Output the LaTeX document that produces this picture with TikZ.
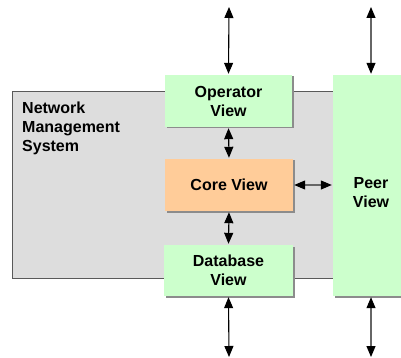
\documentclass[tikz,border=0pt]{standalone}
\usepackage{fontspec}
\setmainfont{Liberation Sans}
\usetikzlibrary{arrows.meta, shadows}

\definecolor{viewgreen}{HTML}{CCFFCC}
\definecolor{coreorange}{HTML}{FFCC99}
\definecolor{nmsgray}{HTML}{DDDDDD}

\tikzset{
  labelfont/.style={font=\bfseries\fontsize{16}{19}\selectfont},
  view/.style={labelfont, fill=viewgreen, inner sep=0pt, align=center,
    drop shadow={shadow xshift=1.5pt, shadow yshift=-1.5pt, opacity=1, fill=black!45}},
  link/.style={{Triangle[width=9pt, length=11pt, color=black]}-{Triangle[width=9pt, length=11pt, color=black]},
    line width=1.1pt, shorten <=1pt, shorten >=1pt},
}

\begin{document}
\begin{tikzpicture}[x=1pt, y=-1pt]
\useasboundingbox (0,0) rectangle (401,358);
% system frame
\draw [fill=nmsgray, draw=black!65, line width=1pt] (12,92) rectangle (345,278);
\node [labelfont, anchor=north west, inner sep=0pt, align=left] (nms) at (22,101.5) {Network\\Management\\System};
% views
\node [view, minimum width=127pt, minimum height=52pt] (op) at (228.5,101) {Operator\\View};
\node [view, fill=coreorange, minimum width=128pt, minimum height=52pt] (core) at (229,185) {Core View};
\node [view, minimum width=129pt, minimum height=51pt] (db) at (228.5,270.5) {Database\\View};
\node [view, minimum width=76pt, minimum height=221pt] (peer) at (371,185.5) {};
\node [labelfont, align=center, inner sep=0pt] (peertext) at (371,193) {Peer\\View};
% free ends
\coordinate (optop) at (229,7);
\coordinate (peertop) at (371,7);
\coordinate (dbbot) at (229,357);
\coordinate (peerbot) at (371,357);
% links
\draw [link, shorten <=0pt] (optop) -- (op.north);
\draw [link] (op.south) -- (core.north);
\draw [link] (core.south) -- (db.north);
\draw [link, draw=black!60] (core.east) -- (peer.west |- core.east);
\draw [link, draw=black!60, shorten <=0pt] (peertop) -- (peer.north);
\draw [link, shorten >=0pt] (db.south) -- (dbbot);
\draw [link, draw=black!60, shorten >=0pt] (peer.south) -- (peerbot);
\end{tikzpicture}
\end{document}
